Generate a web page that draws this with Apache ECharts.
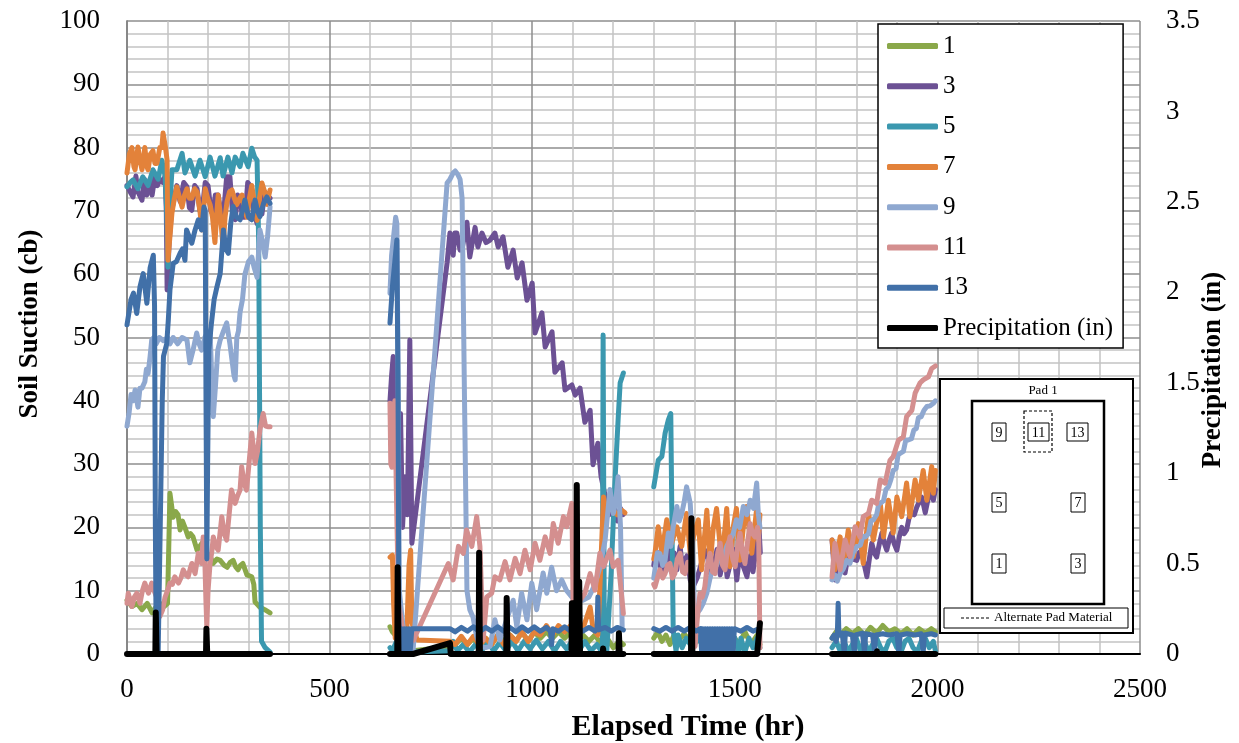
<!DOCTYPE html>
<html>
<head>
<meta charset="utf-8">
<script src="https://cdn.jsdelivr.net/npm/echarts@6/dist/echarts.min.js"></script>
<style>
html,body{margin:0;padding:0;background:#fff;}
#chart{width:1239px;height:743px;}
</style>
</head>
<body>
<div id="chart"></div>
<script>
// ---- Data: [elapsed hr, value]; null = gap between logging periods ----
const xTicks = [0, 500, 1000, 1500, 2000, 2500];
const yTicks = [0, 10, 20, 30, 40, 50, 60, 70, 80, 90, 100];
const y2Ticks = [0, 0.5, 1, 1.5, 2, 2.5, 3, 3.5];
const seriesNames = ['1', '3', '5', '7', '9', '11', '13', 'Precipitation (in)'];
const axisTitles = { x: 'Elapsed Time (hr)', y: 'Soil Suction (cb)', y2: 'Precipitation (in)' };

const s1 = [
 [0,8.5],[12,7.5],[25,8],[37,7],[50,8],[62,6.5],[72,7.5],[81,8],[92,7.5],[100,8],[106,25.4],[114,21.6],[120,22.5],[126,22],[131,19.6],[137,21],[143,20],[151,18.5],[157,19],[163,18.5],[173,16.4],[185,17.5],[197,15.3],[205,15.5],[212,14.3],[222,15],[230,14.8],[240,14],[247,13.7],[255,14.5],[262,14.8],[268,13.8],[274,13.3],[280,14],[286,14.3],[296,12.5],[308,12.2],[313,11],[316,8.2],[322,7.8],[328,7.4],[340,7],[353,6.5],
 null,
 [649,4.3],[655,3.5],[662,3],[672,2.5],[685,2.2],[698,2],[706,0.5],[797,1.2],[810,1.5],[825,2.5],[840,1.5],[855,2.5],[870,1],[885,2.5],[900,1.5],[915,3],[930,2],[945,3],[960,2],[975,3.5],[990,2],[1005,3.5],[1020,2.5],[1035,3.5],[1050,2.5],[1065,3.5],[1080,2.5],[1095,3.5],[1110,2],[1125,3],[1140,2],[1155,3],[1170,1.5],[1185,2.5],[1200,1],[1215,2],[1225,1.5],
 null,
 [1300,2.5],[1310,3.5],[1320,2],[1330,3],[1340,1.5],[1350,3],[1360,2],[1375,3.2],[1390,2],[1405,2.8],[1420,1.5],[1435,3],[1450,2],[1465,3],[1480,2],[1495,3],[1510,1.5],[1525,3.5],[1540,1.5],[1555,3],[1562,1.5],
 null,
 [1740,2.5],[1750,3.5],[1760,3],[1775,4],[1790,3.2],[1805,4],[1820,3],[1835,4.2],[1850,3.3],[1865,4.5],[1880,3.5],[1895,4],[1910,3.2],[1925,4],[1940,3],[1955,4],[1970,3.3],[1985,4],[1995,3.5]
];

const s3 = [
 [0,74],[8,73],[15,72.2],[22,75.5],[27,73],[37,71.7],[43,75],[49,72.5],[57,75],[62,72.5],[69,75.5],[75,74],[81,75],[88,74.5],[94,75.5],[97,70],[99,57.5],[104,65],[110,70],[114,71.2],[123,74],[131,71.5],[140,74.5],[148,73.8],[154,70.5],[160,70.1],[167,74],[173,73.5],[180,70],[185,69.7],[193,74.5],[200,74],[207,70],[212,69.5],[218,72.5],[225,72.5],[231,70],[237,68.6],[246,75.4],[254,75.4],[260,70],[267,68.6],[273,72.5],[279,72],[285,69],[291,69],[298,74.5],[304,74],[312,70],[321,68],[327,71],[333,69.5],[340,73],[346,72.5],[353,72],
 null,
 [649,40],[653,44],[657,47],[660,42],[665,35],[670,30],[675,38],[680,20],[686,28],[692,22],[698,49.6],[703,17.5],[790,61.8],[797,66.5],[805,63],[809,66.5],[814,66.5],[822,63.8],[827,64],[839,68.2],[846,62.7],[859,67.4],[866,64.3],[876,66.5],[886,65],[896,65.4],[908,66.5],[916,64.3],[928,65.9],[940,61.1],[953,63.8],[963,59.4],[975,61.8],[987,55.9],[1000,58.6],[1007,50.7],[1024,53.9],[1032,48.5],[1049,50.9],[1056,44.5],[1074,46],[1081,41.7],[1098,42.5],[1106,40.9],[1118,42],[1130,36.6],[1143,38.5],[1150,29.9],[1162,33.3],[1170,28],[1180,25],[1190,22],[1200,24],[1210,21],[1218,23],[1224,22],
 null,
 [1300,14],[1303,15.3],[1310,16],[1320,12.8],[1328,15],[1335,16.5],[1343,13],[1350,16],[1357,13.3],[1365,17],[1370,14],[1382,15.5],[1390,11.7],[1397,10.6],[1407,12],[1414,13.5],[1426,16.4],[1431,16],[1439,12.8],[1446,13],[1456,16.5],[1464,12.5],[1475,16],[1481,12.2],[1488,14],[1497,16.5],[1505,11.7],[1513,16.5],[1520,14],[1530,12.2],[1538,15.5],[1545,13],[1555,18],[1560,19.6],[1563,16],
 null,
 [1740,18],[1747,11.7],[1754,15],[1760,16.4],[1766,14],[1772,12.8],[1778,15],[1784,16.4],[1792,15],[1801,14.8],[1807,16],[1813,16.4],[1820,14],[1826,12.2],[1832,15],[1838,17.5],[1844,16],[1850,15.3],[1857,17.5],[1863,19.1],[1869,17.5],[1875,16.4],[1881,18],[1887,19.1],[1893,17.5],[1900,16.4],[1906,18.5],[1912,20],[1918,19],[1924,19.6],[1930,21.5],[1937,22.3],[1943,22],[1949,23.2],[1955,24],[1961,24.8],[1966,23.5],[1970,22.3],[1977,24.5],[1983,25.9],[1990,24.3],[1995,26]
];

const s5 = [
 [0,73.8],[8,74.5],[15,74.9],[27,73.5],[39,75.4],[52,74],[64,76.5],[77,75],[86,78],[94,75.5],[98,70],[101,61.1],[105,70],[111,76.5],[123,76.5],[136,79.1],[143,76],[155,78],[168,75.5],[180,78],[193,75.4],[205,78.5],[217,75.5],[230,78.4],[237,75.5],[249,78.5],[259,76],[267,78.5],[279,77],[286,79.1],[299,77],[308,79.9],[315,78.5],[321,78],[325,65],[329,20],[332,2],[341,1],[353,0.3],
 null,
 [649,1],[655,0.5],[665,2],[672,0.5],[690,1],[706,0.3],[797,0.5],[805,2],[815,0.5],[830,1.5],[845,0.3],[860,1.5],[875,0.5],[890,2],[905,0.5],[920,1.8],[935,0.5],[950,2],[965,0.5],[980,2],[995,0.8],[1010,2.2],[1025,0.8],[1040,2],[1055,0.5],[1070,2],[1085,0.8],[1100,2.2],[1115,0.5],[1130,2],[1145,0.5],[1160,1.5],[1170,0.5],[1173,1],[1175,50.4],[1178,2],[1184,0.2],[1195,13],[1204,27],[1212,37],[1217,42.8],[1225,44.4],
 null,
 [1300,26.4],[1303,26.4],[1311,30.6],[1320,31.2],[1328,34.9],[1336,37],[1342,38],[1345,20],[1348,3.8],[1355,0.5],[1360,3],[1370,1],[1380,2.5],[1395,1],[1410,2.5],[1425,1],[1440,2.5],[1455,1],[1470,2.5],[1485,1],[1500,2.5],[1510,0.3],[1515,2.5],[1525,0.3],[1535,2.5],[1545,1],[1555,2.5],[1562,1],
 null,
 [1740,1],[1750,2],[1760,0.5],[1770,2],[1780,0.3],[1790,1.5],[1800,2.5],[1810,0.5],[1820,2],[1830,0.3],[1840,1.5],[1850,2.5],[1860,1],[1870,0.3],[1880,2],[1890,2.5],[1900,1],[1910,0.3],[1920,2],[1930,2.5],[1940,1],[1950,0.3],[1960,2],[1970,2.5],[1980,1],[1990,2],[1995,0.5]
];

const s7 = [
 [0,76],[6,79],[12,80],[17,77],[20,76.5],[27,80.1],[32,78],[37,76.5],[44,80],[49,77],[52,76.5],[58,79],[64,79.5],[69,77.5],[74,77.5],[81,80],[86,80],[89,82.3],[95,80],[99,78],[101,62.2],[106,66],[111,69.7],[117,72],[123,73.8],[130,72],[136,70.6],[142,72.5],[148,73.5],[154,72],[160,72],[167,73.5],[173,73],[180,70],[185,67],[190,71],[193,73.5],[199,72],[205,71],[211,69],[217,65],[222,70],[225,72.5],[231,69],[237,64.3],[242,69],[247,71.5],[253,73],[259,73.3],[265,72],[271,71],[278,72],[284,72.5],[290,70],[296,69],[302,72],[308,74],[315,71],[321,68.5],[327,72],[333,74.4],[340,73],[346,71],[350,72.5],[353,73.3],
 null,
 [649,15.3],[655,15.6],[658,8],[662,2.5],[675,2],[690,2.5],[696,14],[700,16.4],[703,5],[716,2.2],[797,2],[810,1.5],[825,2.8],[840,1.5],[855,2.8],[870,1.3],[885,2.5],[900,1.5],[915,3],[930,1.5],[945,3],[960,2],[975,3.5],[990,2],[1005,3.5],[1020,3],[1035,4.5],[1050,3],[1065,4.5],[1080,3.5],[1095,4.5],[1110,3],[1125,4],[1143,7.4],[1150,4],[1162,3],[1168,12],[1176,24.8],[1184,22.2],[1192,23],[1200,22.7],[1210,22],[1221,22.7],[1229,22.3],
 null,
 [1300,15],[1303,15.9],[1311,20.1],[1320,15.9],[1332,21.2],[1344,17.5],[1357,20.1],[1369,17],[1381,22.2],[1390,15.9],[1398,18.5],[1410,21.2],[1418,13.3],[1431,22.7],[1439,13.8],[1447,20],[1455,23],[1468,14.3],[1480,23],[1488,13.8],[1496,20],[1504,23],[1513,14.8],[1521,20],[1529,23.3],[1542,15.9],[1554,23],[1558,18],[1562,22],
 null,
 [1740,18],[1747,13.3],[1760,18.5],[1768,13.8],[1780,19.6],[1793,15.4],[1805,20.6],[1817,14.3],[1830,22.2],[1842,18],[1859,23.8],[1867,18.5],[1879,24.3],[1891,19.1],[1900,24.8],[1912,21.7],[1924,27],[1932,21.7],[1945,27.5],[1953,24.3],[1965,29],[1974,24.3],[1986,29.6],[1990,25.4],[1995,29]
];

const s9 = [
 [0,36],[5,38],[10,41],[15,40],[20,41.7],[27,39],[32,42],[37,42],[44,43],[48,45],[52,44.3],[57,47],[61,49.6],[66,50],[72,49],[80,50],[90,49.5],[100,50],[106,49],[114,50],[125,49],[136,50],[148,49.6],[155,46],[163,48],[172,50.7],[178,49],[184,48],[192,50],[200,51],[205,51],[209,44],[213,37.5],[218,42],[224,48],[230,49.6],[238,51],[246,52.3],[254,49],[260,46],[264,44],[267,43.3],[271,50],[275,51],[279,54],[285,56],[291,60],[300,62],[308,62.7],[314,61],[321,59.5],[328,67],[335,65],[341,62.7],[347,66],[353,70.6],
 null,
 [649,57],[653,63],[658,66],[663,69],[666,68],[669,45],[672,10],[685,2],[700,1],[706,0.5],[790,74.4],[797,75],[805,76],[810,76.3],[816,75.8],[822,75],[827,72],[833,40],[839,10],[846,7],[854,5.8],[862,3],[871,1.2],[885,1],[896,1.2],[908,5.4],[920,2.2],[937,5.4],[953,8.5],[962,4.3],[974,9.6],[987,5.4],[999,11.2],[1011,7],[1027,12.8],[1036,9.6],[1048,13.7],[1060,10],[1073,11.7],[1085,10],[1098,9],[1110,9.5],[1125,8.5],[1140,9],[1155,11],[1167,13.7],[1180,18],[1192,26],[1200,22.2],[1206,24],[1212,28],[1218,20],[1222,4.3],
 null,
 [1300,12],[1303,11.7],[1309,16],[1315,15.9],[1322,14],[1328,14.8],[1336,19.1],[1342,17],[1348,20.1],[1357,23.3],[1363,21],[1369,22.2],[1375,24],[1381,26.4],[1386,25],[1390,23.8],[1395,18],[1400,8],[1406,6.4],[1414,7],[1422,8],[1431,9.6],[1439,12],[1447,13.8],[1455,14],[1464,15.9],[1472,15],[1480,17],[1488,18],[1496,19],[1504,21.2],[1512,20],[1521,23.3],[1530,22],[1538,24.3],[1546,23],[1554,27],[1558,22.2],[1562,20],
 null,
 [1740,11.7],[1747,12.5],[1753,11.5],[1760,12.7],[1768,13.5],[1776,14.8],[1784,14.3],[1792,16],[1801,17],[1810,17.2],[1816,18.6],[1822,18.5],[1830,19],[1836,21],[1842,21.2],[1850,22],[1855,23.6],[1859,23.8],[1867,24.2],[1873,26],[1879,26.4],[1885,27.5],[1891,29],[1898,29.3],[1903,31.5],[1908,31.7],[1916,32],[1922,33.8],[1928,33.8],[1936,34],[1942,35.4],[1948,35.6],[1953,37.3],[1960,37.5],[1967,38.5],[1974,39.1],[1982,39.2],[1990,39.6],[1995,40]
];

const s11 = [
 [0,8],[3,9.6],[12,7.5],[18,9],[24,9.6],[32,8],[38,10],[44,11.2],[53,9.6],[61,11.2],[67,10],[73,9],[77,7],[81,5.9],[88,7],[94,9],[100,10],[106,11.2],[112,11],[118,12.2],[127,11.2],[133,12],[139,13.3],[145,12.5],[151,12.2],[156,13.5],[160,14.3],[168,12.7],[176,15.9],[184,14.3],[188,18.5],[192,15],[195,8],[197,4.3],[200,10],[205,14.3],[209,16],[213,18.5],[219,17],[225,16.4],[234,21.7],[240,19],[246,18],[252,22],[258,25.9],[267,23.8],[273,25],[279,25.9],[283,29.6],[289,27],[295,25.9],[301,30],[308,34.9],[316,30.1],[322,32],[328,35.4],[336,38],[342,36],[349,35.9],[353,35.9],
 null,
 [649,39.6],[651,30],[654,29.5],[657,35],[661,40],[665,25],[670,8],[680,4],[695,3],[707,2.2],[793,14.3],[805,11.7],[818,17],[830,15.9],[838,19.6],[851,17],[863,21.7],[871,17],[879,2.2],[888,9],[900,9.6],[908,12.2],[920,11.7],[933,14.6],[945,11.7],[958,15.1],[970,12.7],[982,16.4],[995,13.3],[1007,17.5],[1019,14.8],[1032,18.5],[1044,15.9],[1052,20.6],[1064,17.5],[1077,21.7],[1085,20.1],[1098,23.8],[1102,2],[1110,6],[1118,8.5],[1130,9.6],[1143,12.7],[1155,10.1],[1167,15.9],[1176,13.8],[1192,16.4],[1200,13.8],[1212,14.8],[1225,6.4],
 null,
 [1300,11],[1303,10.6],[1309,12],[1315,13.3],[1322,12],[1328,12.7],[1334,14],[1340,14.3],[1346,12],[1352,12.7],[1358,15],[1365,15.9],[1371,13],[1377,12.7],[1384,14.5],[1390,13.8],[1396,10],[1402,1.2],[1408,6],[1414,9.6],[1420,9],[1426,10.6],[1432,14],[1439,15.9],[1445,13],[1451,12.7],[1458,16],[1464,17.5],[1470,14],[1476,13.3],[1482,16.5],[1488,18.5],[1495,15],[1501,13.8],[1507,17],[1513,19.1],[1519,16],[1525,14.3],[1532,18],[1538,20.6],[1544,19],[1550,18.5],[1556,20],[1559,18.5],[1562,1],
 null,
 [1740,12.2],[1747,17.5],[1760,13.3],[1772,18],[1784,15.4],[1797,20.1],[1809,18.5],[1817,21.7],[1830,22.2],[1838,24.3],[1850,23.8],[1859,27.5],[1871,27],[1883,30.6],[1891,31.2],[1904,33.8],[1916,34.3],[1924,37.5],[1937,38.5],[1945,41.2],[1957,42.8],[1965,43.3],[1978,43.8],[1986,45.1],[1995,45.5]
];

const s13 = [
 [0,52],[3,52.2],[10,56],[16,57],[24,53.8],[32,58],[40,60.1],[49,55.4],[57,61],[65,63],[68,55],[70,20],[72,2],[77,0.5],[82,20],[87,40],[90,47],[98,49],[102,52.8],[106,57.5],[114,61.7],[122,62],[131,63.3],[137,64],[143,62.2],[147,67],[153,66],[160,64.9],[168,67],[176,68.6],[184,67],[190,70.6],[193,70],[195,40],[197,15],[199,30],[202,48],[208,52],[215,56],[222,58],[230,60.1],[238,67],[244,64],[250,63.3],[256,68],[262,70.7],[270,69],[279,68.6],[285,70],[291,71.7],[300,69],[308,68.6],[316,71.7],[322,70],[328,69.1],[336,71],[345,72.2],[353,71.2],
 null,
 [649,52.3],[655,58],[661,62],[666,65.4],[669,40],[671,5],[675,0.5],[678,4],[681,0.5],[684,4],[687,0.5],[690,4],[693,0.5],[696,4],[699,0.5],[703,4],[707,4.2],[797,4],[810,3.5],[825,4.2],[840,3.6],[855,4.3],[870,3.5],[885,4.2],[900,3.6],[915,4.3],[930,3.6],[945,4.2],[960,3.5],[975,4.3],[990,3.6],[1005,4.3],[1020,3.6],[1035,4.2],[1045,3.6],[1048,1.5],[1051,4],[1065,3.6],[1080,4.3],[1095,3.6],[1110,4.2],[1125,3.6],[1140,4.2],[1155,3.6],[1160,4],[1162,9],[1164,3.8],[1180,4.2],[1195,3.6],[1210,4.2],[1225,3.8],
 null,
 [1300,4],[1315,3.6],[1330,4.2],[1345,3.6],[1360,4.2],[1375,3.6],[1390,4.2],[1405,3.6],[1415,4],[1418,0.5],[1421,4],[1424,0.5],[1427,4],[1430,0.5],[1433,4],[1436,0.5],[1439,4],[1442,0.5],[1445,4],[1448,0.5],[1451,4],[1454,0.5],[1457,4],[1460,0.5],[1463,4],[1466,0.5],[1469,4],[1472,0.5],[1475,4],[1478,0.5],[1481,4],[1484,0.5],[1487,4],[1490,0.5],[1493,4],[1496,0.5],[1499,4],[1515,3.6],[1530,4.2],[1545,3.6],[1560,4],
 null,
 [1740,2.5],[1745,3],[1750,2],[1753,3],[1755,8],[1757,3],[1765,3.3],[1770,0.3],[1773,3.3],[1790,3],[1795,0.3],[1798,3],[1815,3.3],[1820,0.3],[1823,3.2],[1840,3],[1845,0.5],[1848,3],[1865,3.2],[1880,3],[1900,3.2],[1905,0.3],[1908,3],[1925,3.2],[1945,3],[1960,3.2],[1965,0.3],[1968,3],[1985,3.2],[1995,3]
];

const precip = [
 [0,0],[70,0],[71,0.23],[72,0.23],[73,0],[195,0],[196,0.14],[197,0.14],[198,0],[353,0],
 null,
 [649,0],[667,0],[668,0.48],[669,0.48],[670,0],[706,0],[797,0.06],[799,0],[868,0],[869,0.56],[870,0.56],[871,0],[936,0],[937,0.31],[938,0.31],[939,0],[1097,0],[1098,0.28],[1099,0.28],[1100,0],[1101,0.28],[1102,0],[1109,0],[1110,0.935],[1111,0.935],[1112,0],[1115,0],[1116,0.4],[1117,0.4],[1118,0],[1174,0],[1175,0.03],[1176,0],[1213,0],[1214,0.115],[1215,0.115],[1216,0],[1225,0],
 null,
 [1300,0],[1392,0],[1393,0.75],[1394,0.75],[1395,0],[1555,0],[1562,0.17],
 null,
 [1740,0],[1760,0],[1761,0.01],[1762,0],[1850,0],[1851,0.015],[1852,0],[1995,0]
];

const colors = ['#8aa84a', '#6c5194', '#3b98af', '#e3823a', '#8fa8d0', '#d48f8f', '#4170a8', '#000000'];
// -------------------------------------------------------------

const FONT = 'Liberation Serif';
const toData = arr => arr.map(p => p === null ? ['-', '-'] : p);
const plainNum = v => String(v);

const lineSeries = [s1, s3, s5, s7, s9, s11, s13].map((arr, i) => ({
  name: seriesNames[i],
  type: 'line',
  data: toData(arr),
  showSymbol: false,
  symbol: 'none',
  connectNulls: false,
  animation: false,
  lineStyle: { width: 5, color: colors[i], cap: 'round', join: 'round' },
  itemStyle: { color: colors[i] },
  z: 2 + i
}));
lineSeries.push({
  name: seriesNames[7],
  type: 'line',
  yAxisIndex: 1,
  data: toData(precip),
  showSymbol: false,
  symbol: 'none',
  connectNulls: false,
  animation: false,
  lineStyle: { width: 6, color: colors[7], cap: 'round', join: 'round' },
  itemStyle: { color: colors[7] },
  z: 10
});

const chart = echarts.init(document.getElementById('chart'), null, { renderer: 'canvas' });

const GZ = 50;
const smallBox = (x, y, w, h, t) => ([
  { type: 'rect', z: GZ + 2, shape: { x: x, y: y, width: w, height: h }, style: { fill: '#fff', stroke: '#000', lineWidth: 1 } },
  { type: 'text', z: GZ + 3, style: { text: t, x: x + w / 2, y: y + h / 2 + 1, align: 'center', verticalAlign: 'middle', font: '14px "Liberation Serif"', fill: '#000' } }
]);

const titleFont = sz => 'bold ' + sz + 'px "Liberation Serif"';

const graphicEls = [
  // axis titles
  { type: 'text', z: GZ, style: { text: axisTitles.x, x: 688, y: 727, align: 'center', verticalAlign: 'middle', font: titleFont(30), fill: '#000' } },
  { type: 'text', z: GZ, x: 30, y: 324, rotation: Math.PI / 2, style: { text: axisTitles.y, x: 0, y: 0, align: 'center', verticalAlign: 'middle', font: titleFont(27), fill: '#000' } },
  { type: 'text', z: GZ, x: 1213, y: 370, rotation: Math.PI / 2, style: { text: axisTitles.y2, x: 0, y: 0, align: 'center', verticalAlign: 'middle', font: titleFont(27), fill: '#000' } },
  // Pad 1 inset
  { type: 'rect', z: GZ, shape: { x: 940, y: 379, width: 193, height: 254 }, style: { fill: '#fff', stroke: '#000', lineWidth: 2 } },
  { type: 'text', z: GZ + 3, style: { text: 'Pad 1', x: 1043, y: 391, align: 'center', verticalAlign: 'middle', font: '13px "Liberation Serif"', fill: '#000' } },
  { type: 'rect', z: GZ + 1, shape: { x: 972, y: 401, width: 132, height: 203 }, style: { fill: '#fff', stroke: '#000', lineWidth: 2.5 } },
  { type: 'rect', z: GZ + 2, shape: { x: 1024, y: 411, width: 28, height: 41 }, style: { fill: 'none', stroke: '#000', lineWidth: 1.2, lineDash: [3, 2] } },
  ...smallBox(992, 423, 14, 18, '9'),
  ...smallBox(1028, 423, 21, 18, '11'),
  ...smallBox(1067, 423, 21, 18, '13'),
  ...smallBox(992, 493, 14, 19, '5'),
  ...smallBox(1071, 493, 14, 19, '7'),
  ...smallBox(992, 554, 14, 19, '1'),
  ...smallBox(1071, 554, 14, 19, '3'),
  { type: 'rect', z: GZ + 2, shape: { x: 944, y: 608, width: 184, height: 20 }, style: { fill: '#fff', stroke: '#000', lineWidth: 1 } },
  { type: 'line', z: GZ + 3, shape: { x1: 961, y1: 618, x2: 991, y2: 618 }, style: { stroke: '#000', lineWidth: 1.2, lineDash: [3, 2] } },
  { type: 'text', z: GZ + 3, style: { text: 'Alternate Pad Material', x: 994, y: 618, align: 'left', verticalAlign: 'middle', font: '13px "Liberation Serif"', fill: '#000' } }
];

const option = {
  animation: false,
  backgroundColor: '#fff',
  grid: { left: 127, right: 99, top: 21, bottom: 89, containLabel: false, outerBoundsMode: 'none' },
  legend: {
    orient: 'vertical',
    left: 878,
    top: 24,
    z: 40,
    data: seriesNames.map((n, i) => ({ name: n, icon: 'roundRect', itemStyle: { color: colors[i] } })),
    itemWidth: 51,
    itemHeight: 6,
    itemGap: 14.3,
    padding: [9, 10, 7, 9],
    backgroundColor: '#fff',
    borderColor: '#000',
    borderWidth: 1.5,
    borderRadius: 0,
    textStyle: { fontFamily: FONT, fontSize: 25, color: '#000', lineHeight: 26 },
    selectedMode: false
  },
  xAxis: [{
    type: 'value',
    min: xTicks[0],
    max: xTicks[xTicks.length - 1],
    interval: xTicks[1] - xTicks[0],
    position: 'bottom',
    axisLine: { show: true, lineStyle: { color: '#868686', width: 1.5 } },
    axisTick: { show: false },
    axisLabel: { fontFamily: FONT, fontSize: 27, color: '#000', margin: 22, formatter: plainNum },
    splitLine: { show: true, lineStyle: { color: '#8e8e8e', width: 1.5 } },
    minorTick: { show: false, splitNumber: 5 },
    minorSplitLine: { show: true, lineStyle: { color: '#c4c4c4', width: 1.5 } }
  }, {
    type: 'value',
    min: xTicks[0],
    max: xTicks[xTicks.length - 1],
    position: 'top',
    axisLine: { show: true, lineStyle: { color: '#000', width: 2 } },
    axisTick: { show: false },
    axisLabel: { show: false },
    splitLine: { show: false }
  }],
  yAxis: [{
    type: 'value',
    min: yTicks[0],
    max: yTicks[yTicks.length - 1],
    interval: yTicks[1] - yTicks[0],
    position: 'left',
    axisLine: { show: true, lineStyle: { color: '#868686', width: 1.5 } },
    axisTick: { show: false },
    axisLabel: { fontFamily: FONT, fontSize: 27, color: '#000', margin: 27, formatter: plainNum },
    splitLine: { show: true, lineStyle: { color: '#8e8e8e', width: 1.5 } },
    minorTick: { show: false, splitNumber: 5 },
    minorSplitLine: { show: true, lineStyle: { color: '#c4c4c4', width: 1.5 } }
  }, {
    type: 'value',
    min: y2Ticks[0],
    max: y2Ticks[y2Ticks.length - 1],
    interval: y2Ticks[1] - y2Ticks[0],
    position: 'right',
    axisLine: { show: true, lineStyle: { color: '#868686', width: 1.5 } },
    axisTick: { show: false },
    axisLabel: { fontFamily: FONT, fontSize: 27, color: '#000', margin: 26, formatter: plainNum },
    splitLine: { show: false }
  }],
  series: lineSeries,
  graphic: { elements: graphicEls }
};

chart.setOption(option);
</script>
</body>
</html>
